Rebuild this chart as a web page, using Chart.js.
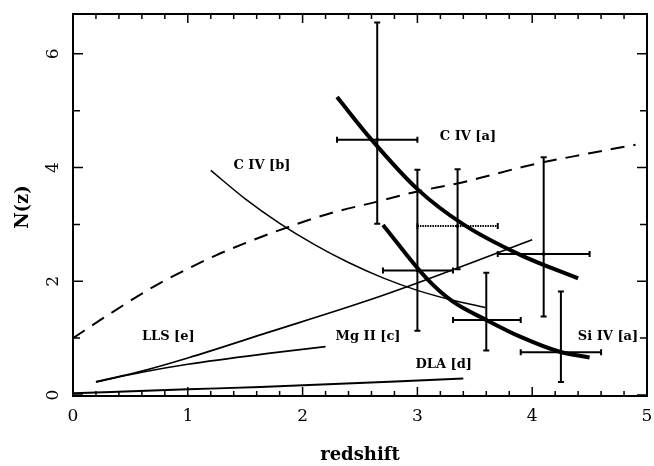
<!DOCTYPE html>
<html>
<head>
<meta charset="utf-8">
<script src="https://cdn.jsdelivr.net/npm/chart.js@4.4.1/dist/chart.umd.min.js"></script>
<style>
  html, body { margin: 0; padding: 0; background: #fff; }
  #wrap { width: 654px; height: 466px; }
</style>
</head>
<body>
<div id="wrap"><canvas id="grafico" width="654" height="466"></canvas></div>
<script>
// curvas (z = redshift, n = N(z))
const tracejadaZ = [0, 0.3, 0.55, 0.75, 1.0, 1.25, 1.5, 1.8, 2.25, 2.65, 3.0, 3.35, 3.55, 4.0, 4.5, 4.9];
const tracejadaN = [1.0, 1.40, 1.72, 1.96, 2.22, 2.46, 2.67, 2.90, 3.20, 3.40, 3.58, 3.72, 3.82, 4.05, 4.25, 4.40];

const civBZ = [1.2, 1.5, 1.8, 2.1, 2.4, 2.7, 3.0, 3.3, 3.59];
const civBN = [3.95, 3.45, 3.02, 2.65, 2.33, 2.06, 1.84, 1.67, 1.54];

const civAZ = [2.3, 2.6, 3.0, 3.4, 3.9, 4.4];
const civAN = [5.24, 4.49, 3.62, 3.00, 2.46, 2.05];

const siivZ = [2.70, 3.08, 3.31, 3.60, 3.89, 4.24, 4.50];
const siivN = [2.99, 2.05, 1.64, 1.32, 1.03, 0.76, 0.66];

const llsZ = [0.2, 0.6, 1.0, 1.7, 2.58, 3.0, 4.0];
const llsN = [0.23, 0.42, 0.65, 1.10, 1.67, 1.97, 2.73];

const mgiiZ = [0.2, 0.6, 1.0, 1.7, 2.2];
const mgiiN = [0.23, 0.40, 0.54, 0.73, 0.85];

const dlaZ = [0, 1.0, 1.63, 3.4];
const dlaN = [0.03, 0.10, 0.14, 0.29];

// pontos com barras de erro
const pontoZ = [2.65, 3.0, 3.35, 3.6, 4.1, 4.25];
const pontoN = [4.49, 2.19, 2.97, 1.32, 2.48, 0.75];
const erroZmin = [2.30, 2.70, 3.00, 3.31, 3.70, 3.90];
const erroZmax = [3.00, 3.31, 3.70, 3.90, 4.50, 4.60];
const erroNmin = [3.01, 1.13, 2.21, 0.78, 1.38, 0.23];
const erroNmax = [6.55, 3.96, 3.97, 2.15, 4.18, 1.82];
const pontoPontilhado = [false, false, true, false, false, false];

// rótulos das curvas
const rotulos = ["C IV [b]", "C IV [a]", "LLS [e]", "Mg II [c]", "DLA [d]", "Si IV [a]"];
const rotuloZ = [1.646, 3.44, 0.83, 2.57, 3.23, 4.66];
const rotuloN = [4.03, 4.54, 1.02, 1.02, 0.53, 1.02];

// marcas dos eixos
const ticksX = [0, 1, 2, 3, 4, 5];
const ticksY = [0, 2, 4, 6];
const ticksYmenores = [1, 3, 5];

function pares(zs, ns) {
  return zs.map((z, i) => ({ x: z, y: ns[i] }));
}

function curva(zs, ns, largura, tracejado) {
  return {
    data: pares(zs, ns),
    showLine: true,
    borderColor: "#000",
    borderWidth: largura,
    borderDash: tracejado || [],
    pointRadius: 0,
    cubicInterpolationMode: "monotone",
    fill: false,
  };
}

const barrasDeErro = {
  id: "barrasDeErro",
  afterDatasetsDraw(chart) {
    const ctx = chart.ctx;
    const sx = chart.scales.x;
    const sy = chart.scales.y;
    ctx.save();
    ctx.strokeStyle = "#000";
    ctx.fillStyle = "#000";
    ctx.lineWidth = 2;
    pontoZ.forEach((z, i) => {
      const px = sx.getPixelForValue(z);
      const py = sy.getPixelForValue(pontoN[i]);
      const x0 = sx.getPixelForValue(erroZmin[i]);
      const x1 = sx.getPixelForValue(erroZmax[i]);
      const y0 = sy.getPixelForValue(erroNmin[i]);
      const y1 = sy.getPixelForValue(erroNmax[i]);
      // vertical
      ctx.setLineDash([]);
      ctx.beginPath();
      ctx.moveTo(px, y0); ctx.lineTo(px, y1);
      ctx.moveTo(px - 3, y0); ctx.lineTo(px + 3, y0);
      ctx.moveTo(px - 3, y1); ctx.lineTo(px + 3, y1);
      ctx.stroke();
      // horizontal
      if (pontoPontilhado[i]) ctx.setLineDash([1.5, 1]);
      ctx.beginPath();
      ctx.moveTo(x0, py); ctx.lineTo(x1, py);
      ctx.stroke();
      ctx.setLineDash([]);
      ctx.beginPath();
      ctx.moveTo(x0, py - 3); ctx.lineTo(x0, py + 3);
      ctx.moveTo(x1, py - 3); ctx.lineTo(x1, py + 3);
      ctx.stroke();
      ctx.fillRect(px - 1.5, py - 1.5, 3, 3);
    });
    ctx.restore();
  },
};

const eixos = {
  id: "eixos",
  afterDraw(chart) {
    const ctx = chart.ctx;
    const a = chart.chartArea;
    const sx = chart.scales.x;
    const sy = chart.scales.y;
    ctx.save();
    ctx.strokeStyle = "#000";
    ctx.fillStyle = "#000";
    ctx.lineWidth = 2;
    ctx.strokeRect(a.left, a.top, a.right - a.left, a.bottom - a.top);

    ctx.lineWidth = 1.5;
    ctx.beginPath();
    for (let k = 0; k <= 25; k++) {
      const z = k * 0.2;
      const px = sx.getPixelForValue(z);
      const maior = k % 5 === 0;
      const lb = maior ? 9 : 5;
      ctx.moveTo(px, a.bottom); ctx.lineTo(px, a.bottom - lb);
      ctx.moveTo(px, a.top); ctx.lineTo(px, a.top + lb);
    }
    ticksY.concat(ticksYmenores).forEach((n) => {
      const py = sy.getPixelForValue(n);
      const lb = ticksY.includes(n) ? 10 : 7;
      ctx.moveTo(a.left, py); ctx.lineTo(a.left + lb, py);
      ctx.moveTo(a.right, py); ctx.lineTo(a.right - lb, py);
    });
    ctx.stroke();

    // rótulos dos ticks
    ctx.font = "17px 'DejaVu Serif'";
    ctx.textAlign = "center";
    ctx.textBaseline = "middle";
    ticksX.forEach((z) => {
      ctx.fillText(String(z), sx.getPixelForValue(z), 417);
    });
    ticksY.forEach((n) => {
      ctx.save();
      ctx.translate(54, sy.getPixelForValue(n));
      ctx.rotate(-Math.PI / 2);
      ctx.fillText(String(n), 0, 0);
      ctx.restore();
    });

    // títulos
    ctx.font = "bold 18px 'DejaVu Serif'";
    ctx.fillText("redshift", 360, 455);
    ctx.save();
    ctx.translate(23, 207);
    ctx.rotate(-Math.PI / 2);
    ctx.fillText("N(z)", 0, 0);
    ctx.restore();

    // rótulos das curvas
    ctx.font = "bold 13px 'DejaVu Serif'";
    rotulos.forEach((t, i) => {
      ctx.fillText(t, sx.getPixelForValue(rotuloZ[i]), sy.getPixelForValue(rotuloN[i]));
    });
    ctx.restore();
  },
};

const ctx = document.getElementById("grafico").getContext("2d");
const grafico = new Chart(ctx, {
  type: "scatter",
  data: {
    datasets: [
      curva(tracejadaZ, tracejadaN, 2, [14, 9]),
      curva(civBZ, civBN, 1.5),
      curva(civAZ, civAN, 4),
      curva(siivZ, siivN, 4),
      curva(llsZ, llsN, 1.7),
      curva(mgiiZ, mgiiN, 1.7),
      curva(dlaZ, dlaN, 2),
    ],
  },
  options: {
    responsive: false,
    animation: false,
    devicePixelRatio: 1,
    layout: { padding: { left: 73, right: 7, top: 14, bottom: 70 } },
    plugins: {
      legend: { display: false },
      tooltip: { enabled: false },
    },
    scales: {
      x: { type: "linear", display: false, min: 0, max: 5 },
      y: { type: "linear", display: false, min: -0.018, max: 6.7 },
    },
  },
  plugins: [barrasDeErro, eixos],
});
</script>
</body>
</html>
